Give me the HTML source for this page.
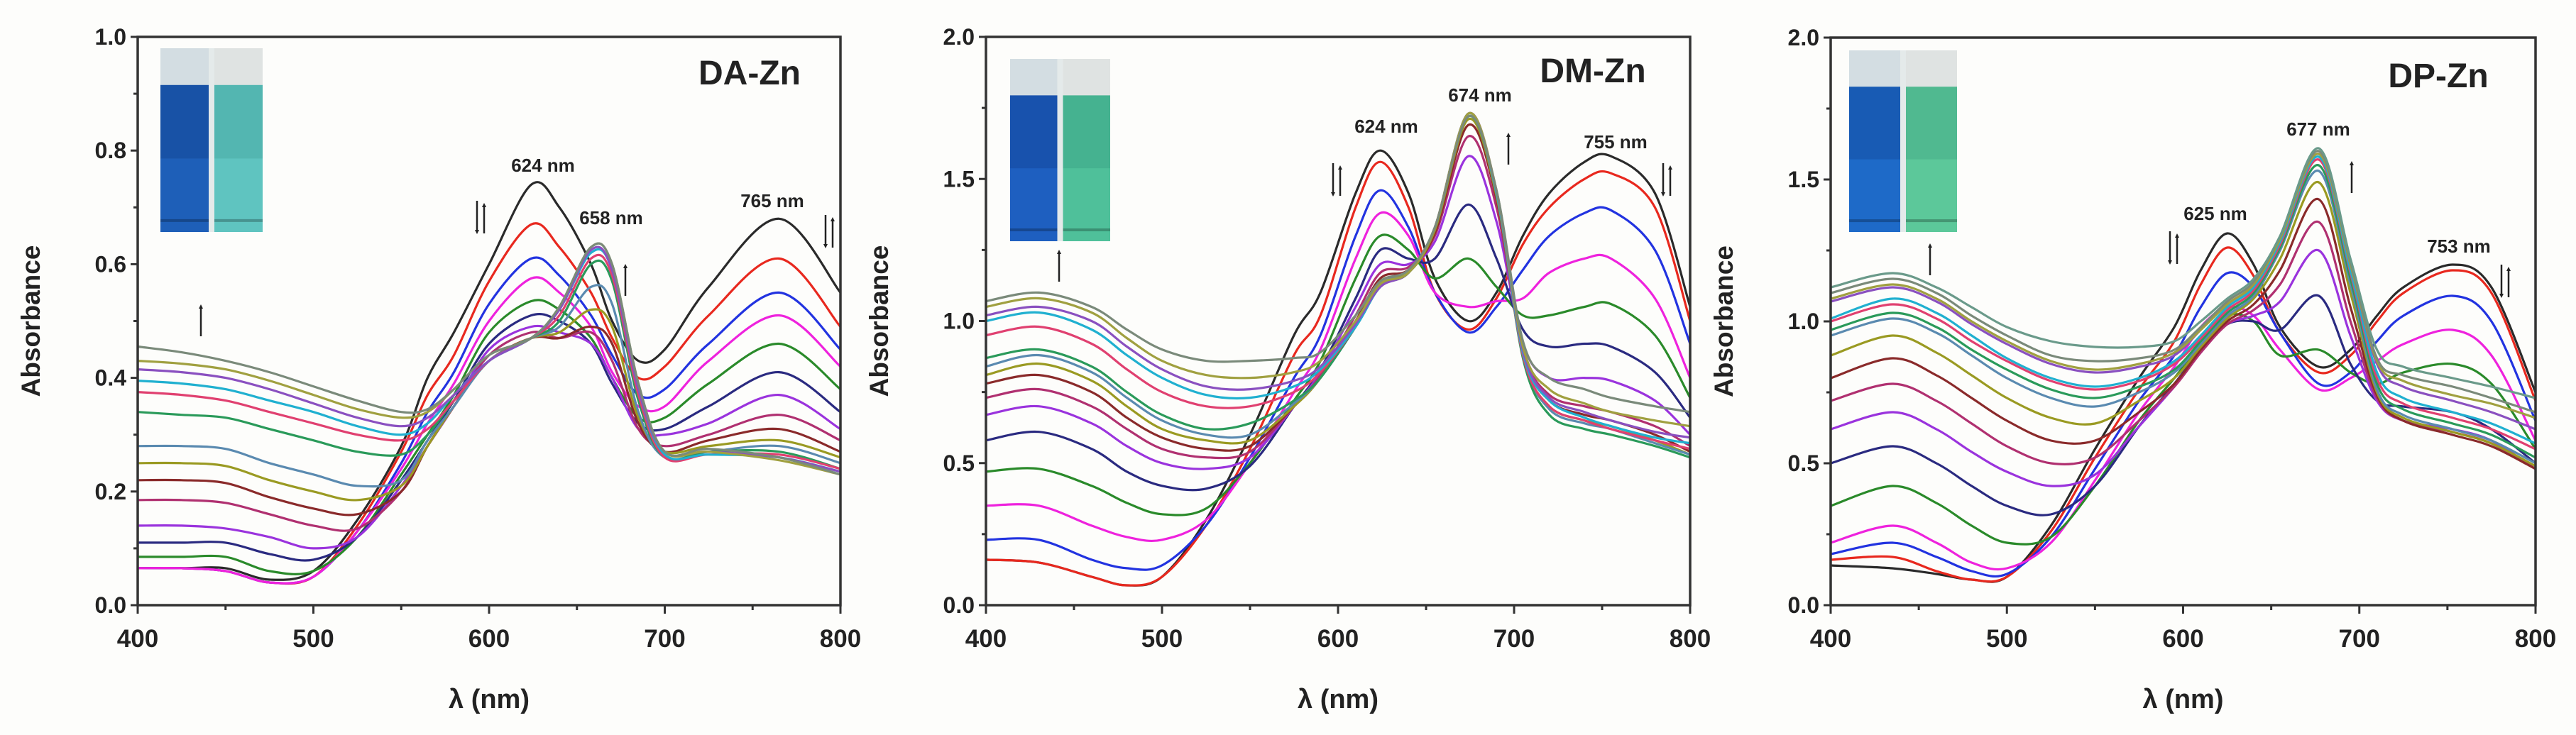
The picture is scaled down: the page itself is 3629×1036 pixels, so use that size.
<!DOCTYPE html>
<html><head><meta charset="utf-8">
<style>
html,body{margin:0;padding:0;background:#fdfdfb;}
svg{display:block;}
text{font-family:"Liberation Sans",Arial,sans-serif;font-weight:bold;fill:#222;}
</style></head>
<body>
<svg id="fig" width="3629" height="1036" viewBox="0 0 3629 1036" xmlns="http://www.w3.org/2000/svg">
<defs>
<marker id="ah" markerWidth="6" markerHeight="6" refX="3" refY="3" orient="auto" markerUnits="userSpaceOnUse"><path d="M0,0 L6,3 L0,6 z" fill="#222"/></marker>
</defs>
</svg>
<script>
// ---------- DATA ----------
const panelTitles = ["DA-Zn","DM-Zn","DP-Zn"];
const yMaxes = [1.0, 2.0, 2.0];
const yTickLabels1 = ["0.0","0.2","0.4","0.6","0.8","1.0"];
const yTickLabels23 = ["0.0","0.5","1.0","1.5","2.0"];
const xTickLabels = ["400","500","600","700","800"];
const seriesColors = ["#2a2a2a","#e8281e","#2233e0","#ee22dd","#2a8a2a","#2a2a80","#9a33dd","#b03070","#8a2a2a","#9a9a22","#5a8ab0","#2a9a5a","#e04070","#20b0d0","#8a50c0","#a0a040","#7a8a7a","#6a9a8a"];

const wl1 = [400,425,450,475,500,525,550,565,580,600,624,640,658,670,685,700,725,765,800];
const abs1 = [
[0.065,0.065,0.065,0.045,0.06,0.15,0.28,0.40,0.48,0.60,0.74,0.70,0.60,0.50,0.43,0.45,0.56,0.68,0.55],
[0.065,0.065,0.06,0.04,0.05,0.14,0.27,0.37,0.44,0.57,0.67,0.63,0.55,0.47,0.40,0.42,0.51,0.61,0.49],
[0.065,0.065,0.06,0.04,0.05,0.13,0.25,0.34,0.41,0.53,0.61,0.58,0.51,0.44,0.37,0.38,0.46,0.55,0.45],
[0.065,0.065,0.06,0.04,0.05,0.13,0.24,0.32,0.39,0.50,0.575,0.55,0.49,0.41,0.35,0.35,0.43,0.51,0.42],
[0.085,0.085,0.085,0.06,0.06,0.12,0.23,0.30,0.37,0.48,0.535,0.52,0.47,0.40,0.33,0.33,0.39,0.46,0.38],
[0.11,0.11,0.11,0.09,0.08,0.12,0.22,0.29,0.36,0.46,0.51,0.50,0.46,0.39,0.32,0.31,0.35,0.41,0.34],
[0.14,0.14,0.135,0.12,0.10,0.12,0.21,0.28,0.35,0.45,0.49,0.48,0.46,0.40,0.31,0.30,0.32,0.37,0.31],
[0.185,0.185,0.18,0.16,0.14,0.135,0.20,0.28,0.35,0.44,0.48,0.47,0.48,0.43,0.31,0.28,0.30,0.335,0.29],
[0.22,0.22,0.215,0.19,0.17,0.16,0.20,0.28,0.35,0.43,0.47,0.47,0.49,0.46,0.32,0.27,0.29,0.31,0.27],
[0.25,0.25,0.245,0.22,0.20,0.185,0.21,0.28,0.35,0.43,0.47,0.48,0.52,0.49,0.33,0.27,0.28,0.29,0.26],
[0.28,0.28,0.275,0.25,0.23,0.21,0.22,0.29,0.35,0.43,0.47,0.49,0.56,0.53,0.34,0.26,0.27,0.28,0.25],
[0.34,0.335,0.33,0.31,0.29,0.27,0.265,0.30,0.36,0.43,0.47,0.50,0.60,0.57,0.36,0.26,0.27,0.27,0.24],
[0.375,0.37,0.36,0.34,0.32,0.30,0.29,0.31,0.36,0.43,0.47,0.51,0.61,0.58,0.37,0.26,0.265,0.265,0.24],
[0.395,0.39,0.38,0.36,0.34,0.315,0.30,0.32,0.37,0.43,0.47,0.52,0.62,0.59,0.38,0.265,0.265,0.26,0.235],
[0.415,0.41,0.40,0.38,0.355,0.33,0.315,0.33,0.37,0.43,0.47,0.52,0.625,0.59,0.38,0.27,0.27,0.26,0.235],
[0.43,0.425,0.415,0.395,0.37,0.345,0.33,0.34,0.38,0.44,0.47,0.525,0.63,0.60,0.39,0.27,0.27,0.255,0.23],
[0.455,0.445,0.43,0.41,0.385,0.36,0.34,0.345,0.38,0.44,0.47,0.525,0.63,0.60,0.39,0.27,0.275,0.26,0.23]
];

const wl2 = [400,430,460,480,500,525,550,575,590,610,624,640,655,674,690,705,720,740,755,780,800];
const abs2 = [
[0.16,0.15,0.10,0.07,0.10,0.30,0.60,0.95,1.10,1.45,1.60,1.45,1.15,1.00,1.10,1.30,1.45,1.56,1.58,1.45,1.05],
[0.16,0.15,0.10,0.07,0.10,0.28,0.55,0.88,1.02,1.40,1.56,1.40,1.10,0.97,1.08,1.27,1.40,1.50,1.52,1.40,1.00],
[0.23,0.23,0.16,0.13,0.14,0.28,0.52,0.80,0.95,1.30,1.46,1.33,1.10,0.96,1.05,1.18,1.30,1.38,1.39,1.25,0.92],
[0.35,0.35,0.28,0.24,0.23,0.30,0.50,0.75,0.90,1.22,1.38,1.30,1.10,1.05,1.07,1.08,1.17,1.22,1.22,1.08,0.80],
[0.47,0.48,0.42,0.36,0.32,0.34,0.50,0.72,0.86,1.15,1.30,1.25,1.15,1.22,1.12,1.02,1.02,1.05,1.06,0.95,0.73],
[0.58,0.61,0.55,0.47,0.42,0.41,0.49,0.70,0.83,1.08,1.25,1.22,1.22,1.41,1.22,0.97,0.91,0.92,0.91,0.82,0.66],
[0.67,0.70,0.64,0.56,0.50,0.48,0.52,0.70,0.82,1.05,1.20,1.20,1.28,1.58,1.35,0.92,0.80,0.80,0.79,0.72,0.60],
[0.73,0.76,0.70,0.62,0.55,0.52,0.54,0.70,0.81,1.02,1.17,1.19,1.30,1.65,1.40,0.90,0.74,0.70,0.68,0.63,0.56],
[0.78,0.81,0.75,0.66,0.59,0.55,0.56,0.70,0.80,1.00,1.15,1.18,1.31,1.69,1.43,0.89,0.72,0.67,0.65,0.60,0.54],
[0.81,0.85,0.79,0.70,0.62,0.58,0.58,0.70,0.80,0.99,1.14,1.17,1.32,1.71,1.44,0.88,0.70,0.65,0.63,0.58,0.53],
[0.84,0.88,0.82,0.73,0.65,0.60,0.60,0.71,0.80,0.98,1.13,1.17,1.33,1.72,1.45,0.88,0.69,0.64,0.62,0.57,0.53],
[0.87,0.90,0.84,0.75,0.67,0.62,0.64,0.72,0.80,0.98,1.12,1.17,1.33,1.72,1.45,0.87,0.67,0.62,0.60,0.56,0.52],
[0.95,0.98,0.92,0.83,0.75,0.70,0.70,0.75,0.82,0.98,1.12,1.17,1.33,1.73,1.45,0.88,0.70,0.65,0.62,0.58,0.55],
[1.00,1.03,0.97,0.88,0.80,0.74,0.73,0.77,0.83,0.98,1.12,1.17,1.33,1.73,1.45,0.89,0.72,0.66,0.63,0.59,0.57],
[1.02,1.05,1.00,0.91,0.83,0.77,0.76,0.79,0.84,0.99,1.12,1.17,1.33,1.73,1.46,0.90,0.73,0.68,0.65,0.61,0.59],
[1.05,1.08,1.03,0.94,0.86,0.81,0.80,0.82,0.86,1.00,1.13,1.17,1.33,1.73,1.46,0.91,0.76,0.71,0.68,0.65,0.63],
[1.07,1.10,1.05,0.97,0.90,0.86,0.86,0.87,0.89,1.02,1.14,1.18,1.33,1.72,1.46,0.93,0.80,0.76,0.73,0.70,0.68]
];

const wl3 = [400,435,460,480,500,525,550,575,595,610,625,640,655,677,695,710,725,753,775,800];
const abs3 = [
[0.14,0.13,0.11,0.09,0.10,0.28,0.55,0.80,0.98,1.18,1.31,1.20,0.98,0.84,0.90,1.02,1.12,1.20,1.12,0.75],
[0.16,0.17,0.12,0.09,0.10,0.26,0.52,0.76,0.93,1.13,1.26,1.16,0.96,0.82,0.88,1.00,1.10,1.18,1.10,0.72],
[0.18,0.22,0.17,0.12,0.11,0.24,0.48,0.72,0.88,1.05,1.17,1.12,0.96,0.78,0.82,0.93,1.02,1.09,1.00,0.65],
[0.22,0.28,0.22,0.15,0.13,0.22,0.44,0.68,0.84,0.98,1.05,1.02,0.90,0.76,0.80,0.86,0.92,0.97,0.88,0.58],
[0.35,0.42,0.36,0.28,0.22,0.24,0.42,0.65,0.80,0.92,1.02,1.00,0.88,0.90,0.82,0.78,0.82,0.85,0.78,0.55],
[0.50,0.56,0.50,0.42,0.35,0.32,0.42,0.63,0.78,0.90,0.99,1.00,0.97,1.09,0.85,0.72,0.70,0.68,0.62,0.50],
[0.62,0.68,0.62,0.54,0.47,0.42,0.46,0.63,0.77,0.89,0.99,1.02,1.07,1.25,0.95,0.72,0.65,0.62,0.58,0.48],
[0.72,0.78,0.72,0.64,0.56,0.50,0.52,0.65,0.77,0.89,0.99,1.04,1.13,1.35,1.00,0.73,0.65,0.61,0.57,0.48],
[0.80,0.87,0.81,0.73,0.65,0.58,0.58,0.68,0.78,0.90,1.00,1.06,1.18,1.43,1.05,0.74,0.65,0.60,0.56,0.48],
[0.88,0.95,0.89,0.81,0.73,0.66,0.64,0.72,0.80,0.91,1.01,1.08,1.22,1.49,1.10,0.75,0.66,0.61,0.57,0.49],
[0.95,1.01,0.96,0.88,0.80,0.73,0.70,0.75,0.82,0.92,1.02,1.09,1.25,1.53,1.13,0.76,0.67,0.62,0.58,0.50],
[0.97,1.03,0.98,0.90,0.83,0.76,0.73,0.77,0.83,0.93,1.03,1.10,1.26,1.55,1.15,0.78,0.69,0.64,0.60,0.52],
[1.00,1.06,1.01,0.93,0.86,0.79,0.76,0.79,0.85,0.94,1.04,1.11,1.27,1.57,1.17,0.80,0.71,0.66,0.62,0.55],
[1.01,1.08,1.03,0.95,0.87,0.80,0.77,0.80,0.86,0.95,1.05,1.12,1.28,1.58,1.18,0.82,0.73,0.68,0.64,0.57],
[1.07,1.12,1.07,0.99,0.92,0.85,0.82,0.84,0.88,0.97,1.06,1.13,1.29,1.59,1.20,0.85,0.77,0.72,0.68,0.62],
[1.08,1.13,1.08,1.00,0.93,0.86,0.83,0.85,0.89,0.97,1.06,1.13,1.29,1.59,1.20,0.86,0.79,0.74,0.71,0.66],
[1.10,1.15,1.10,1.02,0.95,0.88,0.86,0.87,0.90,0.98,1.07,1.14,1.30,1.60,1.21,0.87,0.81,0.77,0.73,0.68],
[1.12,1.17,1.12,1.05,0.98,0.93,0.91,0.91,0.93,1.00,1.08,1.15,1.30,1.61,1.22,0.90,0.84,0.80,0.77,0.73]
];

const peakLabels1 = ["624 nm","658 nm","765 nm"];
const peakLabels2 = ["624 nm","674 nm","755 nm"];
const peakLabels3 = ["625 nm","677 nm","753 nm"];

// ---------- LAYOUT ----------
const NS = "http://www.w3.org/2000/svg";
const svg = document.getElementById("fig");
const panels = [
  {x0:194,x1:1184,y0:52,y1:853,wl:wl1,abs:abs1,yticks:yTickLabels1,peaks:peakLabels1,
   peakPos:[[765,233],[861,307],[1088,283]],
   dbl:[[677,307],[1168,327]], up:[[881,393],[283,450]],
   title:[1056,102], inset:[226,68,144,259], liquid:["#1e5fb8","#5fc4c0"]},
  {x0:1389,x1:2381,y0:52,y1:853,wl:wl2,abs:abs2,yticks:yTickLabels23,peaks:peakLabels2,
   peakPos:[[1953,178],[2085,134],[2276,200]],
   dbl:[[1883,254],[2348,254]], up:[[2125,208],[1492,373]],
   title:[2244,99], inset:[1423,83,141,257], liquid:["#1e5fc0","#4fc09a"]},
  {x0:2579,x1:3572,y0:53,y1:853,wl:wl3,abs:abs3,yticks:yTickLabels23,peaks:peakLabels3,
   peakPos:[[3121,301],[3266,182],[3464,347]],
   dbl:[[3062,350],[3529,397]], up:[[3313,248],[2719,364]],
   title:[3435,106], inset:[2605,71,152,256], liquid:["#1e6ac8","#5cc89a"]}
];

function el(tag, attrs, parent){
  const e=document.createElementNS(NS,tag);
  for(const k in attrs) e.setAttribute(k,attrs[k]);
  (parent||svg).appendChild(e); return e;
}
function smoothPath(pts){
  let d="M"+pts[0][0].toFixed(1)+","+pts[0][1].toFixed(1);
  for(let i=0;i<pts.length-1;i++){
    const p0=pts[i-1]||pts[i], p1=pts[i], p2=pts[i+1], p3=pts[i+2]||pts[i+1];
    const c1=[p1[0]+(p2[0]-p0[0])/6, p1[1]+(p2[1]-p0[1])/6];
    const c2=[p2[0]-(p3[0]-p1[0])/6, p2[1]-(p3[1]-p1[1])/6];
    d+=" C"+c1[0].toFixed(1)+","+c1[1].toFixed(1)+" "+c2[0].toFixed(1)+","+c2[1].toFixed(1)+" "+p2[0].toFixed(1)+","+p2[1].toFixed(1);
  }
  return d;
}

panels.forEach((P,pi)=>{
  const g=el("g",{});
  
  
  const yMax=yMaxes[pi];
  const xs=v=>P.x0+(v-400)/400*(P.x1-P.x0);
  const ys=v=>P.y1-v/yMax*(P.y1-P.y0);

  // inset photo
  const [ix,iy,iw,ih]=P.inset;
  const ph=el("g",{},g);
  
  
  el("rect",{x:ix,y:iy,width:iw,height:ih,fill:"#e4eaea"},ph);
  const cw=iw/2-4;
  [0,1].forEach(k=>{
    const cx=ix+k*(cw+8);
    el("rect",{x:cx,y:iy,width:cw,height:ih*0.2,fill:k?"#dfe3e2":"#d3dde2"},ph);
    el("rect",{x:cx,y:iy+ih*0.2,width:cw,height:ih*0.8,fill:P.liquid[k]},ph);
    el("rect",{x:cx,y:iy+ih*0.2,width:cw,height:ih*0.4,fill:k?"rgba(0,80,70,0.12)":"rgba(0,30,90,0.18)"},ph);
    el("rect",{x:cx,y:iy+ih*0.93,width:cw,height:4,fill:"rgba(0,0,0,0.25)"},ph);
  });

  // series
  P.abs.forEach((row,si)=>{
    const pts=row.map((v,i)=>[xs(P.wl[i]),ys(v)]);
    const path=el("path",{d:smoothPath(pts),fill:"none",stroke:seriesColors[si%seriesColors.length],"stroke-width":3.2,"stroke-linejoin":"round"},g);
    
    
  });

  // frame
  const fr=el("rect",{x:P.x0,y:P.y0,width:P.x1-P.x0,height:P.y1-P.y0,fill:"none",stroke:"#333","stroke-width":3.5},g);
  
  

  // y ticks
  const nT=P.yticks.length;
  P.yticks.forEach((lab,i)=>{
    const v=yMax*i/(nT-1);
    const y=ys(v);
    el("line",{x1:P.x0-10,y1:y,x2:P.x0,y2:y,stroke:"#333","stroke-width":3},g);
    if(i<nT-1){ const ym=ys(v+yMax/(nT-1)/2); el("line",{x1:P.x0-6,y1:ym,x2:P.x0,y2:ym,stroke:"#333","stroke-width":3},g);}
    const t=el("text",{x:P.x0-16,y:y+11,"text-anchor":"end","font-size":32},g);
    t.textContent=lab;
    
    
  });
  // x ticks
  xTickLabels.forEach((lab,i)=>{
    const v=+lab; const x=xs(v);
    el("line",{x1:x,y1:P.y1,x2:x,y2:P.y1+12,stroke:"#333","stroke-width":3},g);
    if(i<xTickLabels.length-1){ const xm=xs(v+50); el("line",{x1:xm,y1:P.y1,x2:xm,y2:P.y1+7,stroke:"#333","stroke-width":3},g);}
    const t=el("text",{x:x,y:912,"text-anchor":"middle","font-size":35},g);
    t.textContent=lab;
    
    
  });
  // axis titles
  const xt=el("text",{x:(P.x0+P.x1)/2,y:998,"text-anchor":"middle","font-size":38},g);
  xt.textContent="λ (nm)";
  
  
  const yx=P.x0-138, yy=(P.y0+P.y1)/2;
  const yt=el("text",{x:yx,y:yy,"text-anchor":"middle","font-size":37,transform:`rotate(-90 ${yx} ${yy})`},g);
  yt.textContent="Absorbance";
  
  
  // title
  const tt=el("text",{x:P.title[0],y:P.title[1]+17,"text-anchor":"middle","font-size":48},g);
  tt.textContent=panelTitles[pi];
  
  
  // peak labels
  P.peaks.forEach((lab,i)=>{
    const t=el("text",{x:P.peakPos[i][0],y:P.peakPos[i][1]+9,"text-anchor":"middle","font-size":26},g);
    t.textContent=lab;
    
    
  });
  // arrows
  P.dbl.forEach(([x,y])=>{
    const a=el("g",{},g);
    
    
    el("line",{x1:x-5,y1:y-24,x2:x-5,y2:y+20,stroke:"#222","stroke-width":2.5,"marker-end":"url(#ah)"},a);
    el("line",{x1:x+5,y1:y+22,x2:x+5,y2:y-18,stroke:"#222","stroke-width":2.5,"marker-end":"url(#ah)"},a);
  });
  P.up.forEach(([x,y])=>{
    const a=el("line",{x1:x,y1:y+24,x2:x,y2:y-18,stroke:"#222","stroke-width":2.5,"marker-end":"url(#ah)"},g);
    
    
  });
});
</script>
</body></html>
